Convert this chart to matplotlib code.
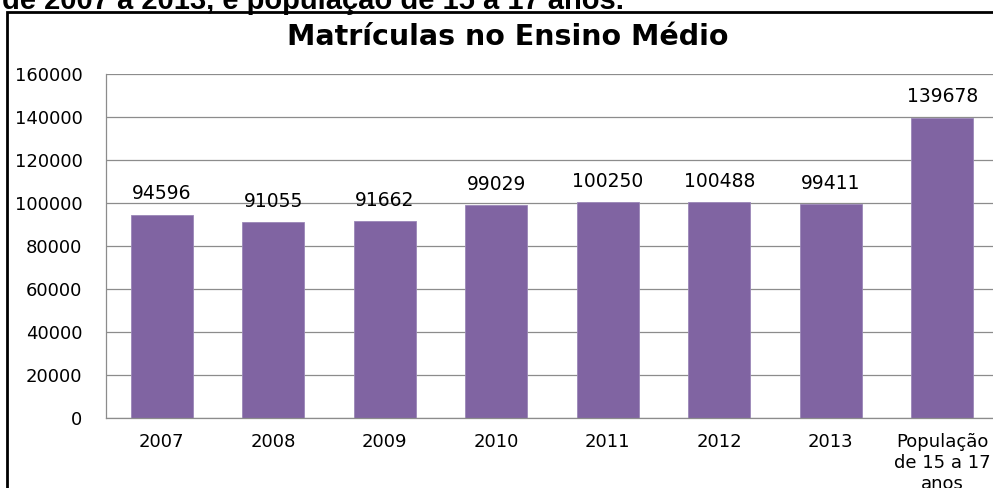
import matplotlib
matplotlib.use("Agg")
import matplotlib.pyplot as plt
from matplotlib.patches import Rectangle

categories = ["2007", "2008", "2009", "2010", "2011", "2012", "2013",
              "População\nde 15 a 17\nanos"]
values = [94596, 91055, 91662, 99029, 100250, 100488, 99411, 139678]
yticks = [0, 20000, 40000, 60000, 80000, 100000, 120000, 140000, 160000]
title = "Matrículas no Ensino Médio"
header = "de 2007 a 2013, e população de 15 a 17 anos."

W, H = 993, 488
fig = plt.figure(figsize=(W / 100, H / 100), dpi=100)
fig.patch.set_facecolor("white")

# Header text (cut off at the top of the picture, as in the reference)
fig.text(2 / W, 1 - 9 / H, header, ha="left", va="baseline",
         fontsize=21, fontweight="bold", family="Liberation Sans", color="black")

# Outer chart border (extends beyond right and bottom edges)
fig.patches.append(Rectangle((7 / W, -0.1), 1.2, 1 - 12 / H + 0.1,
                             transform=fig.transFigure, fill=False,
                             edgecolor="black", linewidth=2.0, zorder=10))

fig.text(508 / W, 1 - 45 / H, title, ha="center", va="baseline",
         fontsize=20.5, fontweight="bold", family="DejaVu Sans", color="black")

ax = fig.add_axes([106 / W, (H - 418) / H, (998 - 106) / W, (418 - 74) / H])
x = list(range(len(categories)))
ax.bar(x, values, width=0.56, color="#8064A2", edgecolor="#9B87B8",
       linewidth=0.6, zorder=2)

ax.set_xlim(-0.5, len(categories) - 0.5)
ax.set_ylim(yticks[0], yticks[-1])
ax.set_yticks(yticks)
ax.set_yticklabels([str(t) for t in yticks])
ax.set_xticks(x)
ax.set_xticklabels(categories, linespacing=1.2)

ax.grid(axis="y", color="#8C8C8C", linewidth=0.9, zorder=0)
ax.set_axisbelow(True)
for s in ["top", "right"]:
    ax.spines[s].set_visible(False)
ax.spines["left"].set_color("#8C8C8C")
ax.spines["bottom"].set_color("#8C8C8C")
ax.spines["left"].set_linewidth(0.9)
ax.spines["bottom"].set_linewidth(0.9)

ax.tick_params(axis="y", length=0, pad=17, labelsize=13, labelcolor="black")
ax.tick_params(axis="x", length=0, pad=11, labelsize=13, labelcolor="black")
for lab in ax.get_xticklabels() + ax.get_yticklabels():
    lab.set_family("DejaVu Sans")

for xi, v in zip(x, values):
    ax.annotate(str(v), (xi, v), xytext=(0, 11), textcoords="offset points",
                ha="center", va="baseline", fontsize=13.5, family="DejaVu Sans",
                color="black")

fig.savefig("out.png", dpi=100)
